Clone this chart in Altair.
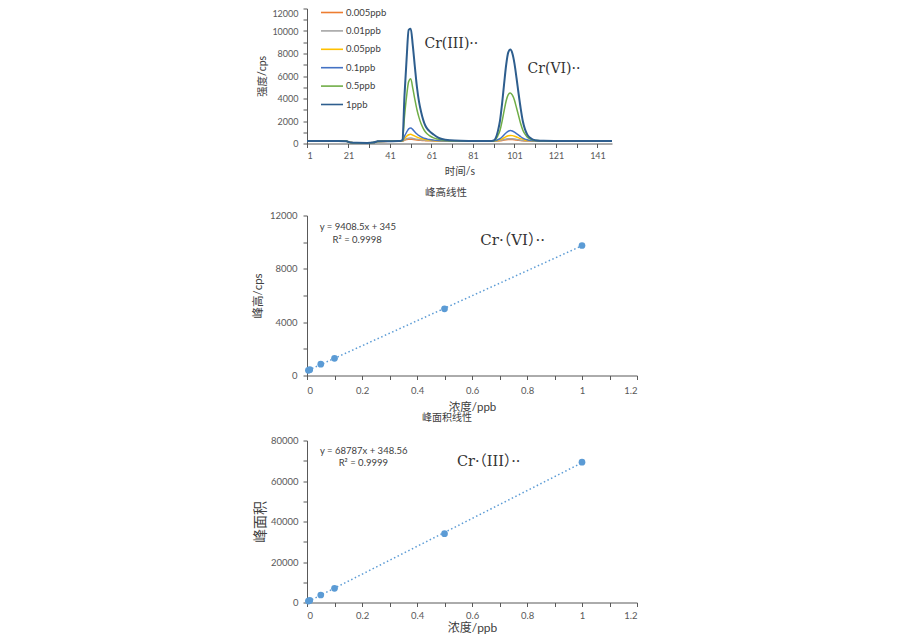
import altair as alt
import pandas as pd

FONT = "Lato, Noto Sans CJK SC, sans-serif"
SERIF = "DejaVu Serif, Noto Sans CJK SC, serif"

# ---------------- chromatogram data ----------------
series_names = ["0.005ppb", "0.01ppb", "0.05ppb", "0.1ppb", "0.5ppb", "1ppb"]
series_colors = ["#ED7D31", "#A5A5A5", "#FFC000", "#4472C4", "#70AD47", "#2E5E8E"]

time_s = [1, 5, 10, 15, 20, 22, 25, 30, 33, 35, 40, 45,
          46, 47, 48, 49, 50, 51, 52, 53, 54, 55, 56, 57, 58, 59, 60, 62, 64, 66,
          70, 75, 80, 85, 90,
          91, 92, 93, 94, 95, 96, 97, 98, 99, 100, 101, 102, 103, 104, 105, 106, 107, 108, 110, 112, 115,
          120, 125, 130, 135, 140, 145, 148]

cps_0005 = [200, 205, 205, 200, 190, 80, 50, 40, 70, 170, 190, 200,
            205, 210, 290, 345, 375, 380, 365, 340, 315, 295, 280, 265, 255, 245, 238, 228, 220, 215,
            208, 205, 205, 205, 205,
            207, 215, 230, 250, 275, 305, 330, 345, 350, 345, 330, 305, 280, 260, 243, 230, 222, 215, 210, 207, 205,
            205, 205, 205, 205, 205, 205, 205]
cps_001 = [205, 210, 210, 205, 195, 85, 55, 45, 75, 175, 195, 205,
           210, 215, 330, 420, 470, 480, 450, 410, 375, 345, 320, 300, 285, 270, 260, 245, 235, 225,
           215, 212, 210, 210, 210,
           212, 222, 245, 270, 310, 355, 395, 420, 430, 420, 395, 360, 325, 295, 270, 250, 237, 228, 218, 213, 210,
           210, 210, 210, 210, 210, 210, 210]
cps_005 = [210, 215, 215, 210, 200, 88, 58, 48, 78, 178, 198, 208,
           215, 225, 440, 640, 780, 820, 740, 650, 570, 500, 440, 395, 360, 330, 305, 275, 250, 235,
           222, 218, 215, 215, 215,
           218, 235, 280, 330, 410, 510, 610, 690, 720, 700, 650, 580, 500, 430, 370, 320, 290, 265, 240, 225, 216,
           215, 215, 215, 215, 215, 215, 215]
cps_01 = [215, 220, 220, 215, 205, 90, 60, 50, 80, 180, 200, 210,
          220, 235, 650, 1000, 1300, 1380, 1230, 1030, 850, 700, 590, 500, 440, 390, 350, 300, 265, 245,
          230, 225, 220, 220, 220,
          225, 265, 340, 430, 580, 780, 960, 1090, 1150, 1110, 1010, 880, 740, 600, 480, 390, 330, 290, 250, 232, 222,
          220, 220, 220, 220, 220, 220, 220]
cps_05 = [218, 222, 222, 218, 208, 90, 60, 50, 85, 185, 203, 212,
          225, 280, 2400, 4200, 5500, 5750, 4900, 3900, 3000, 2300, 1750, 1350, 1050, 850, 700, 500, 390, 310,
          250, 235, 225, 220, 225,
          245, 380, 700, 1150, 1950, 2900, 3800, 4350, 4500, 4300, 3850, 3150, 2450, 1750, 1200, 850, 600, 450, 320, 260, 235,
          225, 225, 222, 222, 220, 220, 220]
cps_1 = [220, 225, 225, 220, 210, 90, 60, 50, 90, 190, 205, 215,
         230, 320, 4300, 7500, 10100, 10200, 8700, 6800, 5000, 3700, 2800, 2100, 1600, 1300, 1100, 800, 550, 400,
         280, 240, 230, 225, 230,
         260, 500, 1100, 2000, 3500, 5300, 7000, 8100, 8350, 8000, 7100, 5800, 4400, 3100, 2000, 1300, 850, 580, 350, 270, 240,
         230, 230, 225, 225, 220, 220, 220]

series_values = [cps_0005, cps_001, cps_005, cps_01, cps_05, cps_1]

rows = []
for name, vals in zip(series_names, series_values):
    for t, v in zip(time_s, vals):
        rows.append({"t": t, "cps": v, "series": name})
chrom_df = pd.DataFrame(rows)

peak_labels = pd.DataFrame({"t": [57.6, 107.3], "cps": [8850, 6650],
                            "label": ["Cr(III)··", "Cr(VI)··"]})

# ---------------- calibration data ----------------
conc_ppb = [0.005, 0.01, 0.05, 0.1, 0.5, 1]
peak_height_cr6 = [392, 440, 850, 1290, 5000, 9750]
peak_area_cr3 = [700, 1000, 3700, 7000, 34000, 69300]

eq_height = pd.DataFrame({"c": [0.046, 0.093], "v": [11175, 10200],
                          "label": ["y = 9408.5x + 345", "R² = 0.9998"]})
eq_area = pd.DataFrame({"c": [0.047, 0.115], "v": [75050, 68960],
                        "label": ["y = 68787x + 348.56", "R² = 0.9999"]})
tag_height = pd.DataFrame({"c": [0.63], "v": [10200], "label": ["Cr·（VI）··"]})
tag_area = pd.DataFrame({"c": [0.545], "v": [69265], "label": ["Cr·（III）··"]})

AX = dict(domainColor="#595959", tickColor="#595959", labelColor="#595959",
          titleColor="#404040", tickSize=4, labelFont=FONT, titleFont=FONT,
          titleFontWeight="normal", grid=False, labelOverlap=False)

# ---------------- panel 1: chromatogram ----------------
W1, H1 = 305, 135
x1 = alt.X("t:Q", scale=alt.Scale(domain=[1, 148], nice=False, zero=False),
           axis=alt.Axis(values=list(range(1, 148, 10)), format="d",
                         labelExpr="(datum.value - 1) % 20 == 0 ? datum.label : ''",
                         title="时间/s", titleFontSize=10.5, titleBaseline="middle",
                         titleY=27.5, labelPadding=4, labelFontSize=9, **AX))
y1 = alt.Y("cps:Q", scale=alt.Scale(domain=[0, 12000], nice=False),
           axis=alt.Axis(values=list(range(0, 12001, 1000)), format="d",
                         labelExpr="datum.value % 2000 == 0 ? datum.label : ''",
                         labelOffset={"condition": {"test": "datum.value == 12000", "value": 4.5}, "value": 0},
                         title="强度/cps", titleFontSize=10.5, titleBaseline="middle",
                         titleX=-45, titleY=H1 / 2, labelPadding=5, labelFontSize=9, **AX))

lines = alt.Chart(chrom_df).mark_line(interpolate="monotone").encode(
    x=x1, y=y1,
    color=alt.Color("series:N", sort=series_names,
                    scale=alt.Scale(domain=series_names, range=series_colors),
                    legend=alt.Legend(title=None, orient="none", legendX=13, legendY=-8,
                                      symbolType="stroke", symbolSize=484, symbolStrokeWidth=1.6,
                                      labelFont=FONT, labelFontSize=9.5, labelColor="#404040",
                                      rowPadding=1.4, labelOffset=2, padding=0)),
    strokeWidth=alt.condition("datum.series == '1ppb'", alt.value(2), alt.value(1.5)),
)
lbl1 = alt.Chart(peak_labels).mark_text(align="left", baseline="middle", font=SERIF,
                                        fontSize=14, color="#333333").encode(
    x=x1, y=y1, text="label:N")
cap1 = alt.Chart(pd.DataFrame({"label": ["峰高线性"]})).mark_text(
    align="center", baseline="middle", font=FONT, fontSize=10.5, color="#404040").encode(
    x=alt.value(139), y=alt.value(184.5), text="label:N")
panel1 = alt.layer(lines, lbl1, cap1).properties(width=W1, height=H1)

# ---------------- panel 2: peak height linearity ----------------
W2, H2 = 330, 160
xticks = [round(i * 0.1, 1) for i in range(13)]


def cal_x(title, ty, fs, lp):
    return alt.X("c:Q", scale=alt.Scale(domain=[0, 1.2], nice=False),
                 axis=alt.Axis(values=xticks, format="~g",
                               labelExpr="round(datum.value * 10) % 2 == 0 ? datum.label : ''",
                               title=title, titleFontSize=fs, titleBaseline="middle",
                               titleY=ty, labelPadding=lp, labelFontSize=9.5, **AX))


x2 = cal_x("浓度/ppb", 32, 11.5, 6)
y2 = alt.Y("v:Q", scale=alt.Scale(domain=[0, 12000], nice=False),
           axis=alt.Axis(values=list(range(0, 12001, 2000)), format="d",
                         labelExpr="datum.value % 4000 == 0 ? datum.label : ''",
                         title="峰高/cps", titleFontSize=11.5, titleBaseline="middle",
                         titleX=-49, titleY=H2 / 2, labelPadding=6, labelFontSize=9.5, **AX))

df2 = pd.DataFrame({"c": conc_ppb, "v": peak_height_cr6})
pts2 = alt.Chart(df2).mark_circle(size=45, color="#5B9BD5", opacity=1).encode(x=x2, y=y2)
trend2 = alt.Chart(df2).transform_regression("c", "v").mark_line(
    color="#5B9BD5", strokeDash=[1.5, 2.5], strokeWidth=1.5).encode(x=x2, y=y2)
eq2 = alt.Chart(eq_height).mark_text(align="left", baseline="middle", font=FONT,
                                     fontSize=9.5, color="#404040").encode(x=x2, y=y2, text="label:N")
tag2 = alt.Chart(tag_height).mark_text(align="left", baseline="middle", font=SERIF,
                                       fontSize=15, color="#333333").encode(x=x2, y=y2, text="label:N")
cap2 = alt.Chart(pd.DataFrame({"label": ["峰面积线性"]})).mark_text(
    align="center", baseline="middle", font=FONT, fontSize=10, color="#404040").encode(
    x=alt.value(140), y=alt.value(202.5), text="label:N")
panel2 = alt.layer(trend2, pts2, eq2, tag2, cap2).properties(width=W2, height=H2)

# ---------------- panel 3: peak area linearity ----------------
W3, H3 = 330, 162
x3 = cal_x("浓度/ppb", 25, 12, 4)
y3 = alt.Y("v:Q", scale=alt.Scale(domain=[0, 80000], nice=False),
           axis=alt.Axis(values=list(range(0, 80001, 10000)), format="d",
                         labelExpr="datum.value % 20000 == 0 ? datum.label : ''",
                         title="峰面积", titleFontSize=14, titleBaseline="middle",
                         titleX=-47, titleY=H3 / 2, labelPadding=5, labelFontSize=9.5, **AX))

df3 = pd.DataFrame({"c": conc_ppb, "v": peak_area_cr3})
pts3 = alt.Chart(df3).mark_circle(size=45, color="#5B9BD5", opacity=1).encode(x=x3, y=y3)
trend3 = alt.Chart(df3).transform_regression("c", "v").mark_line(
    color="#5B9BD5", strokeDash=[1.5, 2.5], strokeWidth=1.5).encode(x=x3, y=y3)
eq3 = alt.Chart(eq_area).mark_text(align="left", baseline="middle", font=FONT,
                                   fontSize=9.5, color="#404040").encode(x=x3, y=y3, text="label:N")
tag3 = alt.Chart(tag_area).mark_text(align="left", baseline="middle", font=SERIF,
                                     fontSize=14.5, color="#333333").encode(x=x3, y=y3, text="label:N")
panel3 = alt.layer(trend3, pts3, eq3, tag3).properties(width=W3, height=H3)

chart = alt.vconcat(panel1, panel2, panel3, spacing=12).properties(
    padding={"left": 244, "top": -7.5, "right": 10, "bottom": 0},
    background="white",
).configure_view(stroke=None)

chart.save("out.html", embed_options={"renderer": "svg", "actions": False})
